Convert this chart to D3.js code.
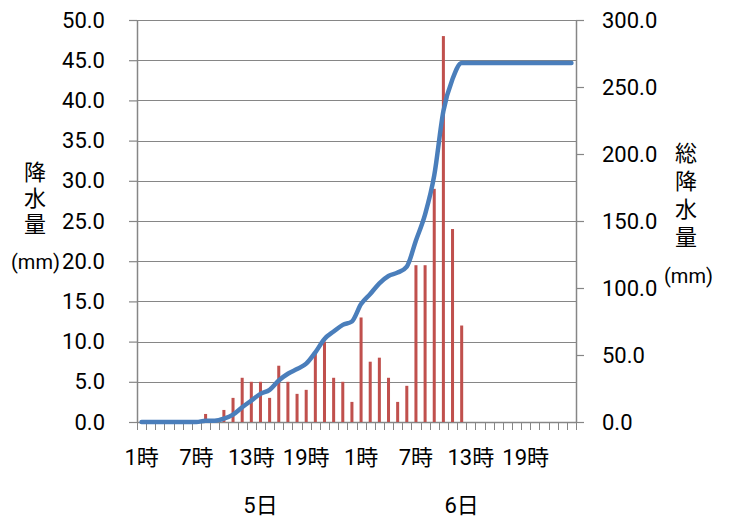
<!DOCTYPE html>
<html><head><meta charset="utf-8">
<script src="https://cdn.jsdelivr.net/npm/d3@7"></script>
<style>
html,body{margin:0;padding:0;background:#fff;}
svg text{font-family:Roboto,"Noto Sans CJK JP",sans-serif;fill:#000;}
</style></head>
<body><svg id="c" width="731" height="519"></svg>
<script>
// categories: 48 hours (5日 1時 .. 6日 24時)
const days = ["5日", "6日"];
const hours = d3.range(1, 25);
const categories = days.flatMap(d => hours.map(h => d + h + "時"));
// hourly rainfall (mm), left axis
const rain = [0,0,0,0,0,0,0,1,0,1.5,3,5.5,5,5,3,7,5,3.5,4,8.5,10,5.5,5,2.5,
              13,7.5,8,5.5,2.5,4.5,19.5,19.5,29,48,24,12,0,0,0,0,0,0,0,0,0,0,0,0];
// cumulative rainfall (mm), right axis
const total = [0,0,0,0,0,0,0,1,1,2.5,5.5,11,16,21,24,31,36,39.5,43.5,52,62,67.5,72.5,75,
               88,95.5,103.5,109,111.5,116,135.5,155,184,232,256,268,268,268,268,268,268,268,268,268,268,268,268,268];
const leftTicks = [0,5,10,15,20,25,30,35,40,45,50];
const rightTicks = [0,50,100,150,200,250,300];
const xLabelIdx = [0,6,12,18,24,30,36,42];
const xLabels = ["1時","7時","13時","19時","1時","7時","13時","19時"];
const dayLabelIdx = [13,35];

const svg = d3.select("#c");
const L = 137, R = 576, T = 20, B = 422;
const x = d3.scaleBand().domain(d3.range(categories.length)).range([L, R]).padding(0);
const yL = d3.scaleLinear().domain([0, 50]).range([B, T]);
const yR = d3.scaleLinear().domain([0, 300]).range([B, T]);
const grid = "#868686";

// gridlines
svg.append("g").selectAll("line").data(leftTicks.slice(1)).join("line")
  .attr("x1", L).attr("x2", R)
  .attr("y1", d => Math.round(yL(d)) + 0.5).attr("y2", d => Math.round(yL(d)) + 0.5)
  .attr("stroke", grid).attr("stroke-width", 1.2);

// left axis
const gl = svg.append("g").attr("transform", `translate(${L},0)`)
  .call(d3.axisLeft(yL).tickValues(leftTicks).tickFormat(d3.format(".1f")).tickSize(8).tickSizeOuter(0).tickPadding(24));
// right axis
const gr = svg.append("g").attr("transform", `translate(${R},0)`)
  .call(d3.axisRight(yR).tickValues(rightTicks).tickFormat(d3.format(".1f")).tickSize(8).tickSizeOuter(0).tickPadding(18));
[gl, gr].forEach(g => {
  g.selectAll("path.domain").attr("stroke", grid).attr("stroke-width", 1.5);
  g.selectAll(".tick line").attr("stroke", grid).attr("stroke-width", 1.2);
  g.selectAll(".tick text").style("font-size", "22px").attr("fill", "#000");
});

// x axis baseline + ticks at category boundaries
svg.append("line").attr("x1", L).attr("x2", R).attr("y1", B + 0.5).attr("y2", B + 0.5)
  .attr("stroke", grid).attr("stroke-width", 1.5);
const bounds = d3.range(categories.length + 1).map(i => i < categories.length ? x(i) : R);
svg.append("g").selectAll("line").data(bounds).join("line")
  .attr("x1", d => Math.round(d) + 0.5).attr("x2", d => Math.round(d) + 0.5)
  .attr("y1", B).attr("y2", B + 8).attr("stroke", grid).attr("stroke-width", 1);

// bars
const bw = x.bandwidth() * 0.33;
svg.append("g").selectAll("rect").data(rain).join("rect")
  .attr("x", (d, i) => x(i) + x.bandwidth() / 2 - bw / 2)
  .attr("width", bw)
  .attr("y", d => yL(d)).attr("height", d => B - yL(d))
  .attr("fill", "#C0504D");

// cumulative line
const line = d3.line().x((d, i) => x(i) + x.bandwidth() / 2).y(d => yR(d)).curve(d3.curveMonotoneX);
svg.append("path").datum(total).attr("d", line)
  .attr("fill", "none").attr("stroke", "#4A7EBB").attr("stroke-width", 4.5)
  .attr("stroke-linejoin", "round").attr("stroke-linecap", "round");

// x labels
svg.append("g").selectAll("text").data(xLabelIdx).join("text")
  .attr("x", d => x(d) + x.bandwidth() / 2).attr("y", 465)
  .attr("text-anchor", "middle").style("font-size", "22px")
  .text((d, i) => xLabels[i]);
svg.append("g").selectAll("text").data(dayLabelIdx).join("text")
  .attr("x", d => x(d) + x.bandwidth() / 2).attr("y", 513)
  .attr("text-anchor", "middle").style("font-size", "22px")
  .text((d, i) => days[i]);

// left title
const lt = ["降", "水", "量"];
svg.append("g").selectAll("text").data(lt).join("text")
  .attr("x", 35).attr("y", (d, i) => 180 + i * 26).attr("text-anchor", "middle")
  .style("font-size", "22px").text(d => d);
svg.append("text").attr("x", 11).attr("y", yL(20) + 8).style("font-size", "20px").text("(mm)");

// right title
const rt = ["総", "降", "水", "量"];
svg.append("g").selectAll("text").data(rt).join("text")
  .attr("x", 686).attr("y", (d, i) => 161 + i * 28).attr("text-anchor", "middle")
  .style("font-size", "22px").text(d => d);
svg.append("text").attr("x", 664).attr("y", 283).style("font-size", "20px").text("(mm)");
</script></body></html>
